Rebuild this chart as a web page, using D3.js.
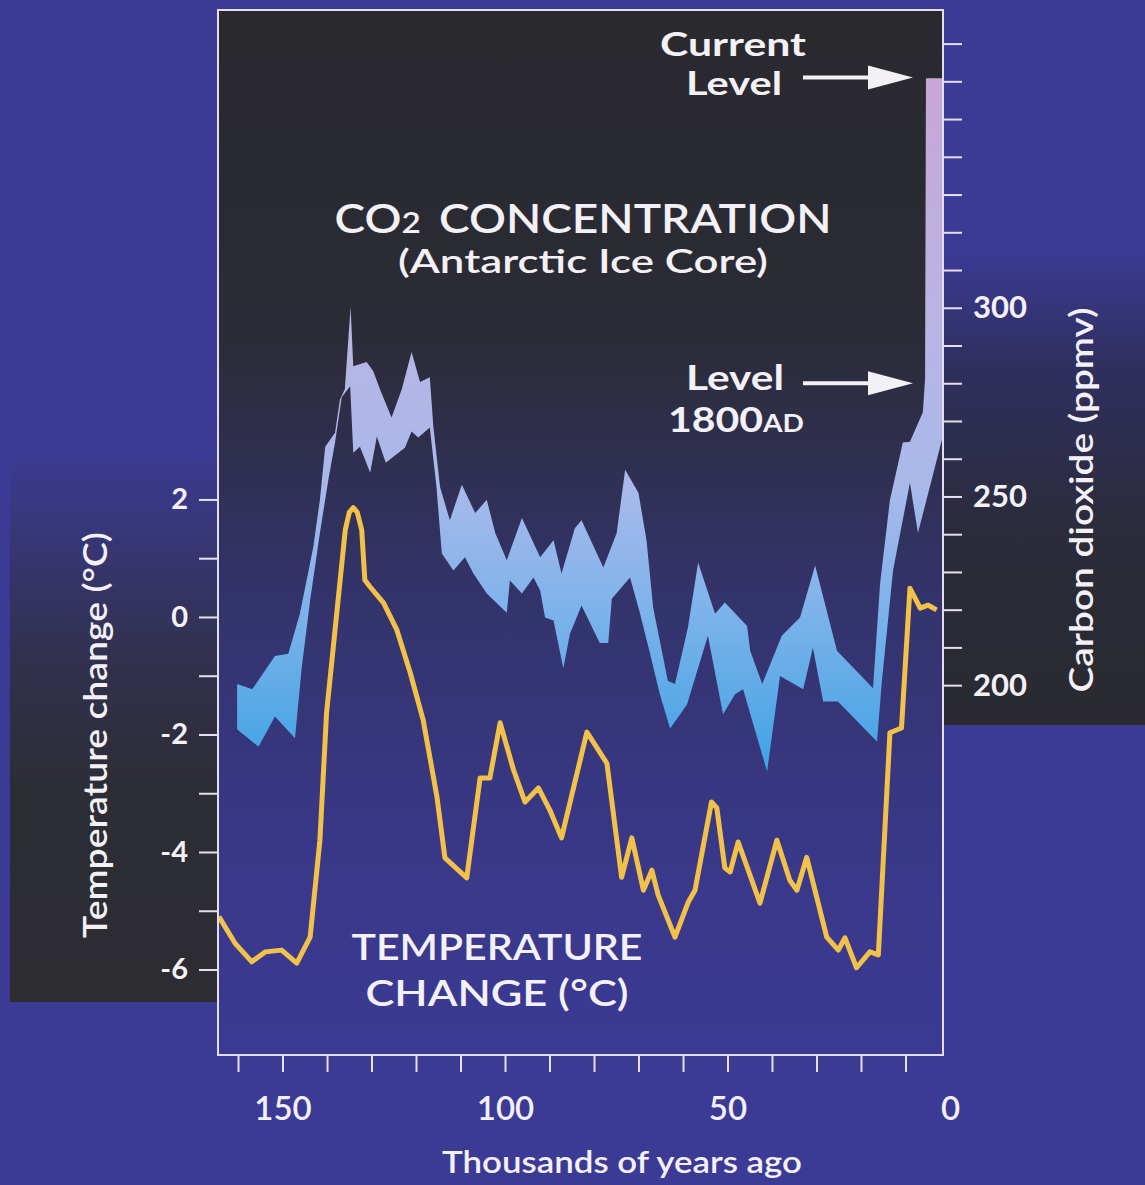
<!DOCTYPE html>
<html>
<head>
<meta charset="utf-8">
<script src="https://cdn.jsdelivr.net/npm/d3@7"></script>
<style>
  body { margin: 0; background: #3b3a95; }
  svg { display: block; font-family: Lato, "Open Sans", sans-serif; }
  .tick text { fill: #f3f0f6; font-weight: 700; font-family: Lato, "Open Sans", sans-serif; }
  .tick line { stroke: #e4e0ee; stroke-width: 2; }
</style>
</head>
<body>
<div class="chart"></div>
<script>
// CO2 band: [thousands of years ago, ppmv]
var co2Upper = [
  [160.2,200.3],[156.8,198.9],[151.7,207.7],[148.7,208.3],[146.1,218.9],[143.1,236.5],
  [141.6,249.1],[140.4,263.2],[138.2,266.9],[137.1,275.7],[136.0,278.4],[134.7,300.3],
  [134.1,284.5],[131.1,285.6],[129.6,283.2],[128.1,278.4],[125.5,270.9],[123.2,278.4],
  [121.0,288.3],[119.1,280.3],[116.9,281.6],[116.1,268.5],[114.6,252.5],[112.4,243.7],
  [109.7,253.1],[106.7,245.6],[104.1,249.1],[102.2,240.3],[99.6,233.1],[96.2,244.3],
  [92.1,233.9],[89.1,238.4],[87.3,229.6],[84.3,241.6],[82.8,243.7],[77.9,231.2],
  [74.9,240.3],[73.0,257.1],[70.0,250.9],[68.2,238.4],[66.7,220.5],[63.4,201.1],
  [61.8,200.3],[58.9,215.2],[56.6,232.5],[52.8,218.9],[50.6,221.9],[45.6,215.7],
  [44.9,209.1],[42.2,200.3],[37.8,213.1],[33.7,217.9],[30.3,231.7],[25.4,209.1],
  [17.3,199.2],[15.7,227.0],[13.5,249.0],[10.6,264.3],[9.0,264.5],[6.1,272.3],
  [5.6,281.1],[5.4,360.8],[1.8,360.8]
];
var co2Lower = [
  [160.2,188.3],[155.4,183.7],[151.7,191.7],[147.2,185.9],[145.7,204.5],[143.8,222.4],
  [141.6,240.3],[139.7,254.4],[138.2,264.3],[136.7,276.3],[134.8,279.2],[134.1,261.6],
  [132.6,263.2],[130.3,256.3],[128.8,265.9],[126.8,258.9],[122.5,262.9],[121.0,267.2],
  [119.5,265.6],[116.9,268.3],[115.4,252.5],[114.2,234.9],[111.6,230.4],[109.0,233.9],
  [107.1,229.6],[104.1,224.3],[99.6,219.2],[98.9,227.7],[96.2,224.3],[93.6,228.5],
  [92.1,225.1],[91.0,217.9],[89.1,217.1],[86.9,204.5],[85.4,213.6],[82.8,221.1],
  [80.9,216.5],[78.7,211.2],[76.8,211.2],[76.0,222.9],[71.9,228.5],[69.7,219.2],
  [67.4,208.3],[65.2,197.6],[62.9,188.5],[59.1,194.9],[54.4,213.1],[51.0,192.3],
  [48.3,197.6],[46.5,198.9],[41.1,177.1],[38.2,202.4],[33.0,198.9],[30.8,209.9],
  [28.5,195.7],[25.2,195.7],[16.4,185.1],[15.3,201.1],[12.8,230.4],[9.0,253.6],
  [7.2,240.3],[1.8,265.1]
];

// temperature change: [thousands of years ago, deg C]
var tempData = [
  [164.3,-5.10],[160.7,-5.55],[156.9,-5.87],[153.9,-5.70],[150.2,-5.67],[146.8,-5.89],
  [143.8,-5.45],[141.6,-3.80],[140.1,-1.63],[137.8,0.07],[135.9,1.48],[135.0,1.78],
  [134.1,1.86],[133.2,1.78],[132.2,1.48],[131.5,0.63],[130.3,0.51],[127.3,0.24],
  [124.3,-0.22],[121.3,-0.95],[118.4,-1.75],[115.3,-3.06],[113.5,-4.10],[108.6,-4.44],
  [105.6,-2.74],[103.4,-2.74],[101.1,-1.80],[98.1,-2.60],[95.5,-3.15],[92.5,-2.91],
  [89.9,-3.29],[87.3,-3.76],[81.6,-1.96],[77.1,-2.49],[73.8,-4.43],[71.5,-3.76],
  [68.9,-4.65],[67.0,-4.31],[65.6,-4.73],[61.8,-5.45],[58.8,-4.85],[57.3,-4.65],
  [53.6,-3.15],[52.4,-3.25],[50.6,-4.27],[49.4,-4.34],[47.6,-3.83],[42.7,-4.87],
  [38.9,-3.80],[36.0,-4.48],[34.4,-4.65],[32.2,-4.09],[27.7,-5.45],[25.1,-5.67],
  [23.6,-5.46],[21.0,-5.97],[18.0,-5.70],[16.1,-5.75],[13.5,-1.97],[10.9,-1.89],
  [9.0,0.49],[6.7,0.15],[4.9,0.20],[3.0,0.12]
];

var ageTicks = d3.range(10, 161, 10);
var ageLabels = [150, 100, 50, 0];
var tempTicks = d3.range(-6, 3, 1);
var tempLabels = [-6, -4, -2, 0, 2];
var co2Ticks = d3.range(200, 371, 10);
var co2Labels = [200, 250, 300];
var currentLevel = 361;
var level1800 = 280;

var W = 1145, H = 1185;
var plot = { left: 218, right: 943, top: 10, bottom: 1055 };
var textColor = '#f3f0f6';

var xScale = d3.scaleLinear().domain([164.5, 1.57]).range([plot.left, plot.right]);
var yTemp = d3.scaleLinear().domain([-7.455, 10.33]).range([plot.bottom, plot.top]);
var yCo2 = d3.scaleLinear().domain([102.0, 378.9]).range([plot.bottom, plot.top]);

var svg = d3.select('.chart')
  .append('svg')
  .attr('width', W)
  .attr('height', H);

var defs = svg.append('defs');

function vGrad(id, y1, y2, stops) {
  var g = defs.append('linearGradient')
    .attr('id', id)
    .attr('gradientUnits', 'userSpaceOnUse')
    .attr('x1', 0).attr('x2', 0)
    .attr('y1', y1).attr('y2', y2);
  stops.forEach(s => g.append('stop').attr('offset', s[0]).attr('stop-color', s[1]));
}

vGrad('innerGrad', plot.top, plot.bottom,
  [[0, '#29292e'], [0.3, '#2b2b35'], [0.55, '#33336a'], [0.8, '#393888'], [1, '#3b3a94']]);
vGrad('leftGrad', 460, 1002,
  [[0, '#3b3a90'], [0.35, '#323150'], [0.6, '#2d2d36'], [1, '#2c2c31']]);
vGrad('rightGrad', 250, 725,
  [[0, '#3b3a94'], [0.25, '#2f2f5e'], [0.6, '#2b2b3a'], [1, '#2a2a30']]);
vGrad('bandGrad', 80, 760,
  [[0, '#c8a6d6'], [0.35, '#b9b4e4'], [0.6, '#a8b9ea'], [0.78, '#7db3ea'], [1, '#44a4e5']]);

defs.append('clipPath').attr('id', 'plotClip')
  .append('rect')
  .attr('x', plot.left).attr('y', plot.top)
  .attr('width', plot.right - plot.left)
  .attr('height', plot.bottom - plot.top);

// backdrop
svg.append('rect').attr('width', W).attr('height', H).attr('fill', '#3b3a95');
svg.append('rect').attr('x', 10).attr('y', 460).attr('width', plot.left - 10).attr('height', 542)
  .attr('fill', 'url(#leftGrad)');
svg.append('rect').attr('x', plot.right).attr('y', 250).attr('width', W - plot.right).attr('height', 475)
  .attr('fill', 'url(#rightGrad)');
svg.append('rect')
  .attr('x', plot.left).attr('y', plot.top)
  .attr('width', plot.right - plot.left).attr('height', plot.bottom - plot.top)
  .attr('fill', 'url(#innerGrad)');

var g = svg.append('g').attr('clip-path', 'url(#plotClip)');

// CO2 band: upper edge forward, lower edge back
var bandLine = d3.line()
  .x(d => xScale(d[0]))
  .y(d => yCo2(d[1]));

g.append('path')
  .attr('d', bandLine(co2Upper.concat(co2Lower.slice().reverse())) + 'Z')
  .attr('fill', 'url(#bandGrad)');

var tempLine = d3.line()
  .x(d => xScale(d[0]))
  .y(d => yTemp(d[1]));

g.append('path')
  .attr('d', tempLine(tempData))
  .attr('fill', 'none')
  .attr('stroke', '#f2c14a')
  .attr('stroke-width', 5)
  .attr('stroke-linejoin', 'round');

// frame
svg.append('rect')
  .attr('x', plot.left).attr('y', plot.top)
  .attr('width', plot.right - plot.left).attr('height', plot.bottom - plot.top)
  .attr('fill', 'none')
  .attr('stroke', '#e2deee')
  .attr('stroke-width', 2);

// axes
svg.append('g')
  .attr('transform', `translate(${plot.left},0)`)
  .call(d3.axisLeft(yTemp).tickValues(tempTicks).tickSize(19).tickPadding(11)
    .tickFormat(d => tempLabels.includes(d) ? String(d) : ''))
  .call(a => a.select('.domain').remove())
  .selectAll('text').style('font-size', '29px');

svg.append('g')
  .attr('transform', `translate(${plot.right},0)`)
  .call(d3.axisRight(yCo2).tickValues(co2Ticks).tickSize(19).tickPadding(11)
    .tickFormat(d => co2Labels.includes(d) ? String(d) : ''))
  .call(a => a.select('.domain').remove())
  .selectAll('text').style('font-size', '31px');

svg.append('g')
  .attr('transform', `translate(0,${plot.bottom})`)
  .call(d3.axisBottom(xScale).tickValues(ageTicks).tickSize(17).tickFormat(''))
  .call(a => a.select('.domain').remove());

svg.append('g')
  .attr('transform', `translate(0,${plot.bottom})`)
  .call(d3.axisBottom(xScale).tickValues(ageLabels).tickSize(0).tickPadding(42))
  .call(a => a.select('.domain').remove())
  .call(a => a.selectAll('line').remove())
  .selectAll('text').style('font-size', '33px').style('font-weight', 600);

// texts
function label(x, y, txt, size, weight, len) {
  var t = svg.append('text')
    .attr('x', x).attr('y', y)
    .attr('text-anchor', 'middle')
    .attr('fill', textColor)
    .style('font-size', size + 'px')
    .style('font-weight', weight)
    .text(txt);
  if (len) t.attr('textLength', len).attr('lengthAdjust', 'spacingAndGlyphs');
  return t;
}

var title = svg.append('text')
  .attr('x', 583).attr('y', 233)
  .attr('text-anchor', 'middle')
  .attr('fill', textColor)
  .style('font-size', '40px')
  .style('font-weight', 600)
  .attr('textLength', 497).attr('lengthAdjust', 'spacingAndGlyphs');
title.append('tspan').text('CO');
title.append('tspan').style('font-size', '29px').text('2');
title.append('tspan').attr('dx', 16).text('CONCENTRATION');

label(583, 273, '(Antarctic Ice Core)', 32, 600, 370);

label(733, 56, 'Current', 33, 700, 146);
label(734, 95, 'Level', 33, 700, 96);
label(735, 390, 'Level', 34, 700, 98);
var yr = svg.append('text')
  .attr('x', 736).attr('y', 432)
  .attr('text-anchor', 'middle')
  .attr('fill', textColor)
  .style('font-size', '35px')
  .style('font-weight', 700)
  .attr('textLength', 136).attr('lengthAdjust', 'spacingAndGlyphs');
yr.append('tspan').text('1800');
yr.append('tspan').style('font-size', '24px').text('AD');

label(497, 960, 'TEMPERATURE', 37, 600, 291);
label(497, 1006, 'CHANGE (°C)', 37, 600, 263);

label(622, 1173, 'Thousands of years ago', 31, 600, 360);

svg.append('text')
  .attr('transform', 'translate(107,735) rotate(-90)')
  .attr('text-anchor', 'middle')
  .attr('fill', textColor)
  .style('font-size', '33px')
  .style('font-weight', 600)
  .attr('textLength', 406).attr('lengthAdjust', 'spacingAndGlyphs')
  .text('Temperature change (°C)');

svg.append('text')
  .attr('transform', 'translate(1093,500) rotate(-90)')
  .attr('text-anchor', 'middle')
  .attr('fill', textColor)
  .style('font-size', '33px')
  .style('font-weight', 600)
  .attr('textLength', 385).attr('lengthAdjust', 'spacingAndGlyphs')
  .text('Carbon dioxide (ppmv)');

// arrows pointing at the band
function arrow(ppm) {
  var y = yCo2(ppm);
  svg.append('line')
    .attr('x1', 803).attr('x2', 872)
    .attr('y1', y).attr('y2', y)
    .attr('stroke', textColor).attr('stroke-width', 4);
  svg.append('path')
    .attr('d', `M868,${y - 12}L913,${y}L868,${y + 12}Z`)
    .attr('fill', textColor);
}
arrow(currentLevel);
arrow(level1800);
</script>
</body>
</html>
